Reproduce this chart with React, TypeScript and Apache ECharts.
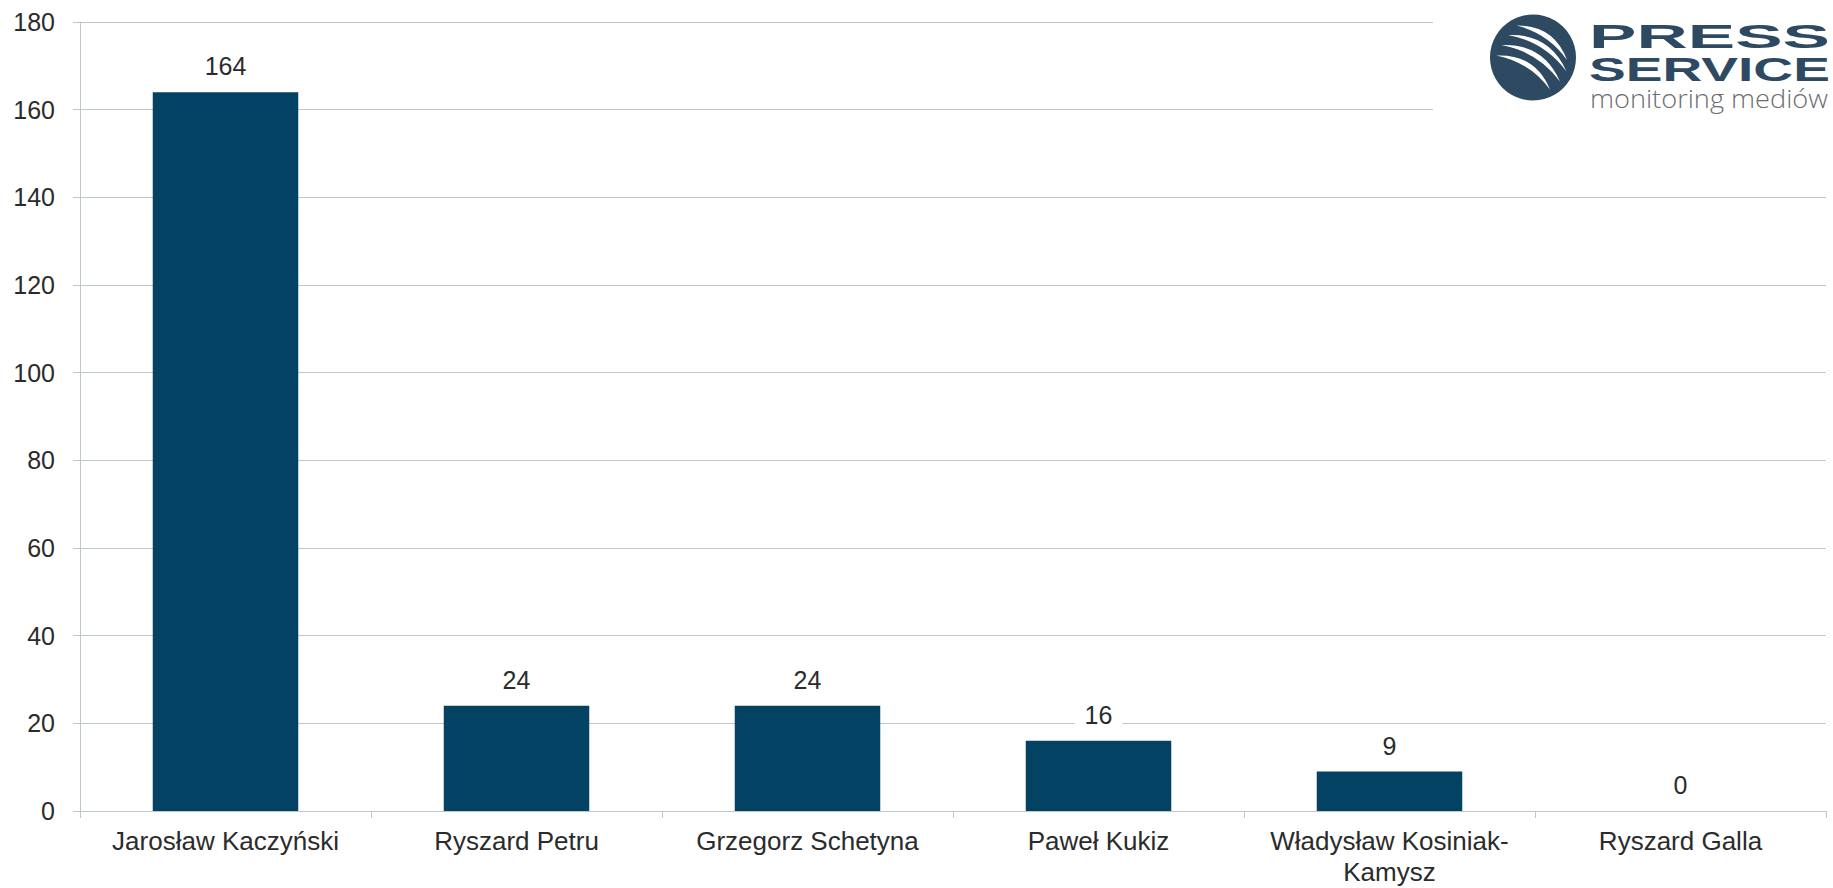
import React, { useEffect, useRef } from "react";
import * as echarts from "echarts";

const categories = [
  "Jarosław Kaczyński",
  "Ryszard Petru",
  "Grzegorz Schetyna",
  "Paweł Kukiz",
  "Władysław Kosiniak-Kamysz",
  "Ryszard Galla",
];
const mentions = [164, 24, 24, 16, 9, 0];
const yMin = 0;
const yMax = 180;
const yStep = 20;

const logoWords = ["PRESS", "SERVICE"];
const logoTagline = "monitoring mediów";

const FONT = '"Liberation Sans", Arial, Helvetica, sans-serif';
const TEXT = "#2b2b2b";
const GRID = "#bec6ce";
const BAR = "#044263";
const LOGO = "#2e4a63";

// logo stripes (tapered crescents) relative to circle centre
function stripesPath(): string {
  const stripes = [
    { s: [-16.5, -32], e: [34, 2.5] },
    { s: [-25, -22.5], e: [33.5, 14] },
    { s: [-31.5, -12.5], e: [27, 24] },
    { s: [-36.5, -2], e: [17, 32] },
  ];
  const t = 5;
  const k = 0.27;
  return stripes
    .map(({ s, e }) => {
      const dx = e[0] - s[0];
      const dy = e[1] - s[1];
      const L = Math.hypot(dx, dy);
      const px = dy / L;
      const py = -dx / L;
      const mx = (s[0] + e[0]) / 2 + k * L * px;
      const my = (s[1] + e[1]) / 2 + k * L * py;
      const o = [mx + t * px, my + t * py];
      const i = [mx - t * px, my - t * py];
      return `M${s[0]} ${s[1]} Q${o[0]} ${o[1]} ${e[0]} ${e[1]} Q${i[0]} ${i[1]} ${s[0]} ${s[1]} Z`;
    })
    .join(" ");
}

echarts.graphic.registerShape(
  "psStripes",
  echarts.graphic.extendPath(stripesPath(), {}) as any
);

function measure(text: string, font: string): number {
  const cv = document.createElement("canvas");
  const ctx = cv.getContext("2d");
  if (!ctx) return 100;
  ctx.font = font;
  return ctx.measureText(text).width || 100;
}

export default function App() {
  const ref = useRef<HTMLDivElement>(null);
  useEffect(() => {
    if (!ref.current) return;
    const chart = echarts.init(ref.current, undefined, { renderer: "svg" });

    const boldFont = `bold 34px ${FONT}`;
    const thinFont = `300 25px "Open Sans", "DejaVu Sans", sans-serif`;
    const logoLeft = 1589;
    const logoW = 241;
    const sx0 = logoW / measure(logoWords[0], boldFont);
    const sx1 = logoW / measure(logoWords[1], boldFont);
    const sx2 = 238 / measure(logoTagline, thinFont);

    chart.setOption({
      animation: false,
      backgroundColor: "#ffffff",
      grid: {
        left: 80,
        right: 7,
        top: 22,
        bottom: 77,
        containLabel: false,
        outerBoundsMode: "none",
      },
      xAxis: {
        type: "category",
        data: categories,
        boundaryGap: true,
        axisLine: { show: true, lineStyle: { color: GRID, width: 1 } },
        axisTick: { show: true, length: 7, interval: 0, alignWithLabel: false, lineStyle: { color: GRID } },
        axisLabel: {
          interval: 0,
          fontFamily: FONT,
          fontSize: 26,
          lineHeight: 31,
          color: TEXT,
          margin: 14,
          formatter: (v: string) => v.replace("-", "-\n"),
        },
        splitLine: { show: false },
      },
      yAxis: {
        type: "value",
        min: yMin,
        max: yMax,
        interval: yStep,
        axisLine: { show: true, lineStyle: { color: GRID, width: 1 } },
        axisTick: { show: true, length: 7, lineStyle: { color: GRID } },
        axisLabel: { fontFamily: FONT, fontSize: 25, color: TEXT, margin: 25 },
        splitLine: { show: true, lineStyle: { color: GRID, width: 1 } },
      },
      series: [
        {
          type: "bar",
          data: mentions,
          barWidth: "50%",
          itemStyle: { color: BAR },
          label: {
            show: true,
            position: "top",
            distance: 10,
            fontFamily: FONT,
            fontSize: 25,
            lineHeight: 28,
            color: TEXT,
            backgroundColor: "#ffffff",
            padding: [2, 10],
          },
        },
      ],
      graphic: [
        {
          type: "rect",
          z: 100,
          shape: { x: 1433, y: 0, width: 400, height: 135 },
          style: { fill: "#ffffff" },
        },
        {
          type: "circle",
          z: 101,
          shape: { cx: 1533, cy: 57.5, r: 43 },
          style: { fill: LOGO },
        },
        {
          type: "psStripes",
          z: 102,
          x: 1533,
          y: 57.5,
          style: { fill: "#ffffff" },
        },
        {
          type: "text",
          z: 102,
          x: logoLeft,
          y: 36,
          scaleX: sx0,
          style: { x: 0, y: 0, text: logoWords[0], font: boldFont, fill: LOGO, align: "left", verticalAlign: "middle" },
        },
        {
          type: "text",
          z: 102,
          x: logoLeft,
          y: 69,
          scaleX: sx1,
          style: { x: 0, y: 0, text: logoWords[1], font: boldFont, fill: LOGO, align: "left", verticalAlign: "middle" },
        },
        {
          type: "text",
          z: 102,
          x: 1590,
          y: 98,
          scaleX: sx2,
          style: { x: 0, y: 0, text: logoTagline, font: thinFont, fill: "#6d6e70", align: "left", verticalAlign: "middle" },
        },
      ],
    });
    return () => chart.dispose();
  }, []);
  return (
    <div
      ref={ref}
      style={{ position: "fixed", left: 0, top: 0, width: 1833, height: 888 }}
    />
  );
}
